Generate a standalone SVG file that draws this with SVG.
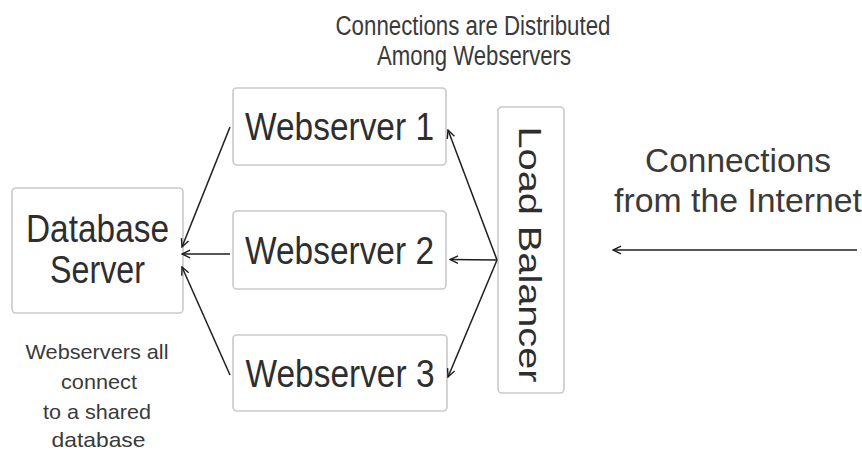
<svg xmlns="http://www.w3.org/2000/svg" width="862" height="451" viewBox="0 0 862 451">
  <style>
    .box { fill: #ffffff; stroke: #c9c9c9; stroke-width: 1.6; }
    .lbl { font-family: "Liberation Sans", Arial, sans-serif; fill: #2e2e2e; text-anchor: middle; }
    .note { font-family: "Liberation Sans", Arial, sans-serif; fill: #3a3a3a; text-anchor: middle; }
    .link { fill: none; stroke: #1e1e1e; stroke-width: 1.5; }
  </style>
  <defs>
    <marker id="arrow" viewBox="0 0 10 10" refX="9" refY="5" markerWidth="10" markerHeight="10" markerUnits="userSpaceOnUse" orient="auto">
      <path d="M1,1.2 L9,5 L1,8.8" fill="none" stroke="#1e1e1e" stroke-width="1.4"/>
    </marker>
  </defs>

  <rect width="862" height="451" fill="#ffffff"/>

  <!-- Annotations -->
  <g id="note-distributed">
    <text class="note" x="473" y="35" font-size="27" textLength="275" lengthAdjust="spacingAndGlyphs">Connections are Distributed</text>
    <text class="note" x="474" y="65" font-size="27" textLength="194" lengthAdjust="spacingAndGlyphs">Among Webservers</text>
  </g>
  <g id="note-internet">
    <text class="note" x="738" y="172" font-size="33" textLength="186" lengthAdjust="spacingAndGlyphs">Connections</text>
    <text class="note" x="738" y="212" font-size="33" textLength="248" lengthAdjust="spacingAndGlyphs">from the Internet</text>
  </g>
  <g id="note-shared">
    <text class="note" x="97" y="359" font-size="21" textLength="143" lengthAdjust="spacingAndGlyphs">Webservers all</text>
    <text class="note" x="99" y="389" font-size="21" textLength="76" lengthAdjust="spacingAndGlyphs">connect</text>
    <text class="note" x="97" y="419" font-size="21" textLength="108" lengthAdjust="spacingAndGlyphs">to a shared</text>
    <text class="note" x="98.5" y="447" font-size="21" textLength="94" lengthAdjust="spacingAndGlyphs">database</text>
  </g>

  <!-- Nodes -->
  <g id="database-server">
    <rect class="box" x="12" y="188" width="171" height="125" rx="4"/>
    <text class="lbl" x="97.5" y="242" font-size="38" textLength="143" lengthAdjust="spacingAndGlyphs">Database</text>
    <text class="lbl" x="97.5" y="283" font-size="38" textLength="95" lengthAdjust="spacingAndGlyphs">Server</text>
  </g>
  <g id="webserver-1">
    <rect class="box" x="233" y="88" width="213" height="77" rx="4"/>
    <text class="lbl" x="339.5" y="140" font-size="38" textLength="189" lengthAdjust="spacingAndGlyphs">Webserver 1</text>
  </g>
  <g id="webserver-2">
    <rect class="box" x="233" y="211" width="213" height="78" rx="4"/>
    <text class="lbl" x="339.5" y="264" font-size="38" textLength="189" lengthAdjust="spacingAndGlyphs">Webserver 2</text>
  </g>
  <g id="webserver-3">
    <rect class="box" x="233" y="335" width="214" height="76" rx="4"/>
    <text class="lbl" x="340" y="387" font-size="38" textLength="189" lengthAdjust="spacingAndGlyphs">Webserver 3</text>
  </g>
  <g id="load-balancer">
    <rect class="box" x="498" y="107" width="66" height="286" rx="4"/>
    <text class="lbl" transform="translate(519,254.5) scale(0.87,1) rotate(90)" x="0" y="0" font-size="36" textLength="256" lengthAdjust="spacingAndGlyphs">Load Balancer</text>
  </g>

  <!-- Connectors -->
  <g id="connectors">
    <line class="link" x1="857" y1="250" x2="613" y2="250" marker-end="url(#arrow)"/>
    <line class="link" x1="497" y1="260" x2="448" y2="130" marker-end="url(#arrow)"/>
    <line class="link" x1="497" y1="260" x2="450" y2="259.5" marker-end="url(#arrow)"/>
    <line class="link" x1="497" y1="260" x2="448" y2="377" marker-end="url(#arrow)"/>
    <line class="link" x1="230" y1="127" x2="182" y2="247" marker-end="url(#arrow)"/>
    <line class="link" x1="230" y1="254" x2="182" y2="254" marker-end="url(#arrow)"/>
    <line class="link" x1="230" y1="375" x2="182" y2="267" marker-end="url(#arrow)"/>
  </g>
</svg>
